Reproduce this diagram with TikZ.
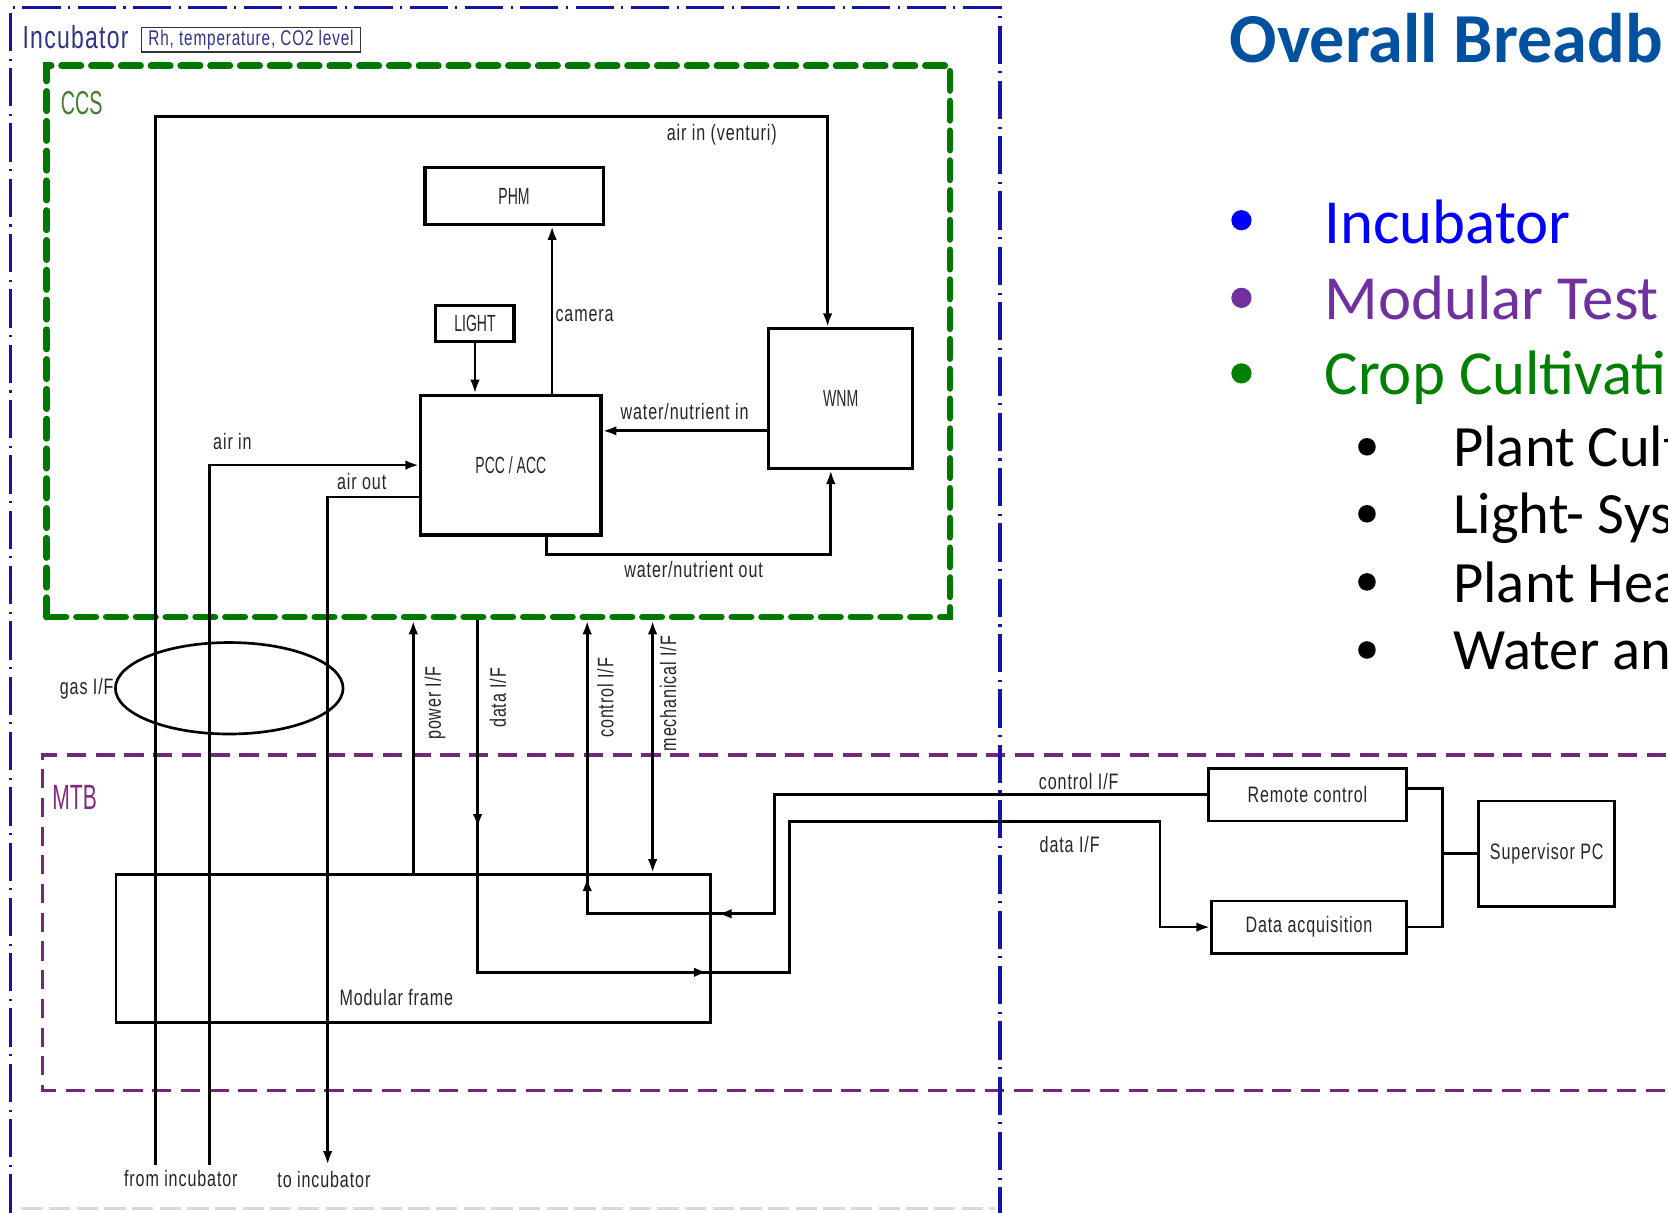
\documentclass[tikz,border=0pt]{standalone}
\usepackage{fontspec}
\usetikzlibrary{arrows.meta,decorations.markings,shapes.geometric,calc}
\newfontfamily\cadfont[FakeStretch=0.72,LetterSpace=4]{Liberation Sans}
\newfontfamily\capfont[FakeStretch=0.6]{Liberation Sans}
\newfontfamily\calfont{Carlito}
\definecolor{incblue}{RGB}{20,20,170}
\definecolor{inctext}{RGB}{50,50,140}
\definecolor{ccsgreen}{RGB}{0,120,0}
\definecolor{ccstext}{RGB}{70,125,50}
\definecolor{mtbpurple}{RGB}{115,40,120}
\definecolor{mtbtext}{RGB}{130,40,130}
\definecolor{titleblue}{RGB}{0,82,160}
\definecolor{bulblue}{RGB}{0,0,255}
\definecolor{bulpurple}{RGB}{112,48,160}
\definecolor{bulgreen}{RGB}{0,128,0}
\begin{document}
\begin{tikzpicture}[x=1pt,y=-1pt,
  >={Latex[length=13pt,width=9pt]},
  wire/.style={line width=2.6pt,draw=black},
  box/.style={draw=black,line width=2.7pt,inner sep=0pt,text=black!85,font=\cadfont\fontsize{21}{25}\selectfont},
  capbox/.style={box,line width=3pt,font=\capfont\fontsize{22}{26}\selectfont},
  lbl/.style={inner sep=0pt,text=black!85,font=\cadfont\fontsize{21}{25}\selectfont},
  datamarks/.style={postaction={decorate,decoration={markings,
     mark=at position 195pt with {\arrow{Latex[length=13pt,width=9pt]}},
     mark=at position 547pt with {\arrow{Latex[length=13pt,width=9pt]}}}}},
  ctlmarks/.style={postaction={decorate,decoration={markings,
     mark=at position 572pt with {\arrow{Latex[length=13pt,width=9pt]}},
     mark=at position 729pt with {\arrow{Latex[length=13pt,width=9pt]}}}}},
  bigbul/.style={circle,inner sep=0pt,minimum size=19pt},
  smallbul/.style={circle,inner sep=0pt,minimum size=16.5pt,fill=black},
  bultext/.style={anchor=base west,inner sep=0pt,font=\calfont\fontsize{59}{64}\selectfont},
  subtext/.style={anchor=base west,inner sep=0pt,text=black,font=\calfont\fontsize{55}{60}\selectfont}
]
\useasboundingbox (0,0) rectangle (1568,1140);
\clip (0,0) rectangle (1568,1140);
\fill[white] (0,0) rectangle (1568,1140);

% ---------- frames ----------
\draw[black!15,line width=2pt,dash pattern=on 20pt off 6pt] (20,1136) -- (935,1136);
\draw[mtbpurple,line width=3.5pt,dash pattern=on 18pt off 9pt] (1620,710) -- (40,710) -- (40,1025) -- (1620,1025);
\node[draw=ccsgreen,line width=6.5pt,line cap=round,dash pattern=on 18pt off 10pt,
      minimum width=849pt,minimum height=518pt,inner sep=0pt] (CCS) at (468.5,321) {};
\draw[incblue,line width=3pt,dash pattern=on 36pt off 7pt on 2pt off 7pt] (10,1140) -- (10,7) -- (940,7) -- (940,1140);

% ---------- frame labels ----------
\node[anchor=west,inner sep=0pt,text=inctext,font=\cadfont\fontsize{30}{33}\selectfont] (inctitle) at (21,35) {Incubator};
\node[draw=black!80,line width=1.3pt,inner sep=0pt,minimum width=206pt,minimum height=23pt,
      text=inctext,font=\cadfont\fontsize{20}{22}\selectfont] (rh) at (236,37.5) {Rh, temperature, CO2 level};
\node[anchor=west,inner sep=0pt,text=ccstext,font=\capfont\fontsize{31}{34}\selectfont] (ccsl) at (57,97) {CCS};
\node[anchor=west,inner sep=0pt,text=mtbtext,font=\capfont\fontsize{33}{36}\selectfont] (mtbl) at (49,750) {MTB};

% ---------- boxes ----------
\node[capbox,minimum width=167.5pt,minimum height=53.5pt] (PHM) at (483.25,184.25) {PHM};
\node[capbox,minimum width=73.5pt,minimum height=34pt] (LIGHT) at (446.5,304) {LIGHT};
\node[capbox,minimum width=169.5pt,minimum height=131.5pt] (PCC) at (480.25,437.2) {PCC / ACC};
\node[capbox,minimum width=135.5pt,minimum height=131.5pt] (WNM) at (790.25,374.75) {WNM};
\node[box,line width=2.6pt,minimum width=559pt,minimum height=139pt] (frame) at (388.5,891.5) {};
\node[box,minimum width=186pt,minimum height=49.5pt] (RC) at (1229,747) {Remote control};
\node[box,minimum width=183pt,minimum height=49pt] (DAQ) at (1230.5,871.5) {Data acquisition};
\node[box,minimum width=128pt,minimum height=99pt] (SPC) at (1454,802.5) {Supervisor PC};
\node[draw=black,line width=2.5pt,ellipse,inner sep=0pt,minimum width=214pt,minimum height=86pt] (gas) at (215.5,647) {};

% ---------- coordinates ----------
\coordinate (fi1) at (146,1095);
\coordinate (fi2) at (197,1095);
\coordinate (toinc) at (308,1095);
\coordinate (vent) at (778,109.5);
\coordinate (cam) at (519,300);
\coordinate (win) at (650,405);
\coordinate (wo1) at (514,521.5);
\coordinate (wo2) at (781,521.5);
\coordinate (pw) at (388.5,700);
\coordinate (dt) at (449,700);
\coordinate (dtA) at (449,914);
\coordinate (dtB) at (742,914);
\coordinate (dtC) at (742,772.5);
\coordinate (dtD) at (1090.5,772.5);
\coordinate (ctA) at (728,747);
\coordinate (ctB) at (728,859);
\coordinate (ct) at (552,859);
\coordinate (mc) at (613.5,700);
\coordinate (busT) at (1356,741);
\coordinate (busB) at (1356,871.5);
\coordinate (busM) at (1356,802.5);

% ---------- connectors ----------
\draw[wire,->] (fi1) |- (vent) -- (vent |- WNM.north);
\draw[wire,->] (fi2) |- (PCC.west);
\draw[wire,->] (PCC.west) ++(0,30) -| (toinc);
\draw[wire,->] (LIGHT.south) -- (LIGHT.south |- PCC.north);
\draw[wire,->] (cam |- PCC.north) -- (cam |- PHM.south);
\draw[wire,->] (win -| WNM.west) -- (win -| PCC.east);
\draw[wire,->] (wo1 |- PCC.south) -- (wo1) -- (wo2) -- (wo2 |- WNM.south);
\draw[wire,->] (pw |- frame.north) -- (pw |- CCS.south);
\draw[wire,->,datamarks] (dt |- CCS.south) -- (dtA) -- (dtB) -- (dtC) -- (dtD) |- (DAQ.west);
\draw[wire,->,ctlmarks] (RC.west) -- (ctA) -- (ctB) -- (ct) -- (ct |- CCS.south);
\draw[wire,<->] (mc |- frame.north) -- (mc |- CCS.south);
\draw[wire] (RC.east |- busT) -- (busT) -- (busB) -- (DAQ.east);
\draw[wire] (busM) -- (SPC.west);

% ---------- labels ----------
\node[lbl] (lvent) at (678.5,127) {air in (venturi)};
\node[lbl] (lcam) at (549.5,297) {camera};
\node[lbl] (lwin) at (643.5,386.5) {water/nutrient in};
\node[lbl] (lwout) at (652,535.5) {water/nutrient out};
\node[lbl] (lairin) at (218.5,415) {air in};
\node[lbl] (lairout) at (340,453) {air out};
\node[lbl] (lgas) at (81.5,647) {gas I/F};
\node[lbl,rotate=90] (lpow) at (409,661) {power I/F};
\node[lbl,rotate=90] (ldat) at (468,656) {data I/F};
\node[lbl,rotate=90] (lctl) at (569,656) {control I/F};
\node[lbl,rotate=90] (lmech) at (628,652) {mechanical I/F};
\node[lbl] (lframe) at (372.5,938) {Modular frame};
\node[lbl] (lctlh) at (1014,735) {control I/F};
\node[lbl] (ldath) at (1005.5,794) {data I/F};
\node[lbl] (lfrom) at (170,1108) {from incubator};
\node[lbl] (lto) at (304.5,1109) {to incubator};

% ---------- slide text ----------
\node[anchor=base west,inner sep=0pt,text=titleblue,font=\calfont\bfseries\fontsize{66}{70}\selectfont] (title) at (1156,59) {Overall Breadb};
\node[bigbul,fill=bulblue] (b1) at (1167,207) {};
\node[bigbul,fill=bulpurple] (b2) at (1167,280) {};
\node[bigbul,fill=bulgreen] (b3) at (1167,351) {};
\node[bultext,text=bulblue] (t1) at (1245,228.7) {Incubator};
\node[bultext,text=bulpurple] (t2) at (1245,300) {Modular Test};
\node[bultext,text=bulgreen] (t3) at (1245,371) {Crop Cultivati};
\node[smallbul] (s1) at (1285,420) {};
\node[smallbul] (s2) at (1285,483) {};
\node[smallbul] (s3) at (1285,547) {};
\node[smallbul] (s4) at (1285,611) {};
\node[subtext] (u1) at (1366,438.6) {Plant Cult};
\node[subtext] (u2) at (1366,501.5) {Light- Sys};
\node[subtext] (u3) at (1366,566.5) {Plant Hea};
\node[subtext] (u4) at (1366,629.5) {Water an};
\end{tikzpicture}
\end{document}
